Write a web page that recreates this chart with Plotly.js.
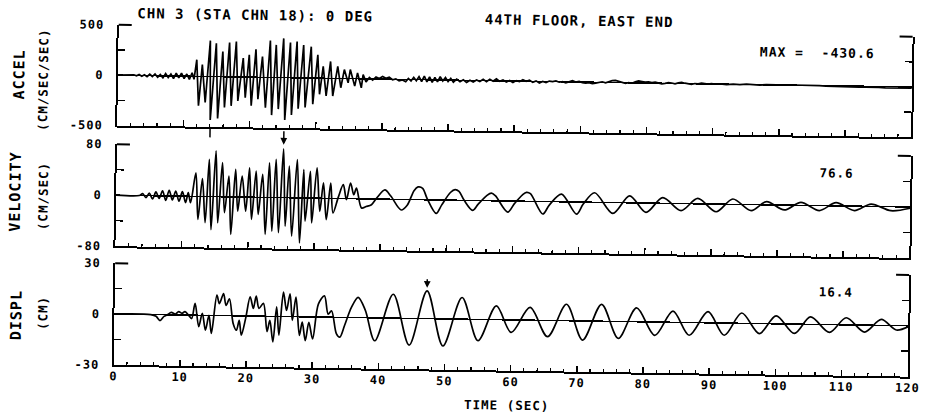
<!DOCTYPE html>
<html>
<head>
<meta charset="utf-8">
<script src="https://cdn.plot.ly/plotly-3.0.1.min.js"></script>
<style>
  html, body { margin: 0; padding: 0; background: #fff; overflow: hidden; }
  #chart { width: 926px; height: 420px; transform: rotate(0.85deg); transform-origin: 463px 210px; }
  .main-svg text { letter-spacing: 1px; }
</style>
</head>
<body>
<div id="chart"></div>
<script>
// ---- Data read from the record (time in seconds) ----
const accelTime = [0, 2.0, 2.4, 2.8, 3.2, 3.6, 4.0, 4.4, 4.8, 5.2, 5.6, 6.0, 6.4, 6.8, 7.2, 7.6, 8.0, 8.4, 8.8, 9.2, 9.6, 10.0, 10.4, 10.8, 11.2, 11.5,
  11.88, 12.23, 12.73, 13.24, 13.89, 14.04, 14.8, 15.15, 15.8, 16.16, 16.8, 17.17, 17.82, 18.17, 18.9, 19.28, 19.8, 20.2, 20.8, 21.2, 21.8, 22.35, 22.96, 23.3,
  23.86, 24.3, 24.97, 25.3, 26.0, 26.3, 27.0, 27.3, 28.0, 28.35, 29.15, 29.5, 30.16, 30.5, 31.0, 31.5, 32.1, 32.5, 33.2, 33.7, 34.2, 34.8, 35.1, 35.8, 36.2, 36.8, 37.05,
  37.5, 38, 38.5, 39, 39.5, 40, 40.5, 41, 41.5, 42, 42.5, 43, 43.5,
  43.9, 44.3, 44.7, 45.1, 45.5, 45.9, 46.3, 46.7, 47.1, 47.5, 47.9, 48.3, 48.7, 49.1, 49.5, 49.9, 50.3, 50.7,
  51.2, 51.7, 52.2, 52.7, 53.2, 53.7, 54.2, 54.7, 55.2, 55.7, 56.2, 56.7, 57.2, 57.7, 58.2, 58.7, 59.2, 59.7, 60.2, 60.7,
  61.2, 61.7, 62.2, 62.7, 63.2, 63.7, 64.2, 64.7, 65.2, 65.7, 66.2, 66.7, 67.2, 67.7, 68.2, 68.7, 69.2, 69.7, 70.2, 70.7,
  71.2, 71.7, 72.2, 72.7, 73.2, 73.7, 74.2, 74.7, 75.2, 75.7, 76.2, 76.7, 77.2, 77.7, 78.2, 78.7, 79.2, 79.7, 80.2, 80.7,
  81.2, 81.7, 82.2, 82.7, 83.2, 83.7, 84.2, 84.7, 85.2, 85.7, 86.2, 86.7, 87.2, 87.7, 88.2, 88.7, 89.2, 89.7, 90.2,
  91, 92, 93, 94, 95, 96, 97, 98, 99, 100, 101, 102, 103, 104, 105, 106, 107, 108, 109, 110,
  111, 112, 113, 114, 115, 116, 117, 118, 119, 120];
const accelValue = [0, 0, 6, -4, 9, -7, 8, -10, 14, -8, 18, -14, 12, -20, 24, -15, 20, -26, 28, -18, 30, -25, 22, -32, 35, -30,
  165, -292, 117, -259, 357, -430.6, 332, -415, 251, -305, 340, -288, 351, -238, 188, -204, 222, -284, 278, -218, 207, -302, 366, -374,
  324, -313, 390, -420, 349, -370, 360, -307, 327, -293, 312, -259, 232, -160, 118, -176, 168, -175, 120, -92, 89, -42, 90, -74, 58, -89, 42,
  -30, 15, -12, 20, 5, 25, 8, 20, -5, 5, -15, -5, -22,
  10, -15, 22, -12, 30, -18, 35, -20, 30, -25, 25, -20, 32, -10, 25, -15, 18, -20,
  10, -15, 5, -20, 2, -15, 5, -10, 12, -10, 15, -5, 20, -5, 10, -10, 5, -15, 5, -5,
  15, 0, 10, -10, 5, -15, 0, -10, 5, 0, 8, -5, 2, -10, 5, 12, 0, 6, -5, -10,
  -4, -15, -8, 2, 6, -4, 10, 18, 22, 12, 4, -6, 2, -4, 10, 20, 14, 8, 12, 6,
  10, 2, -6, 0, 8, 4, -4, 6, 12, 4, -2, -6, 2, 0, 8, 2, -2, 4, 0,
  2, -4, 2, -2, 4, 0, -4, 2, 0, -3, -1, 2, 3, 1, -2, -1, -4, -6, -3, -5,
  -8, -10, -8, -12, -10, -12, -13, -12, -12, -12];

const velTime = [0, 3.5, 4.0, 4.5, 5.0, 5.5, 6.0, 6.5, 7.0, 7.5, 8.0, 8.5, 9.0, 9.5, 10.0, 10.5,
  10.89, 11.25, 12.0, 12.4, 13.0, 13.5, 14.0, 14.4, 15.0, 15.4, 16.0, 16.4, 17.0, 17.4, 18.0, 18.4, 19.0, 19.6, 20.1, 20.5,
  21.1, 21.5, 22.1, 22.6, 23.1, 23.6, 24.1, 24.6, 25.2, 25.6, 26.1, 26.6, 27.3, 27.8, 28.3, 28.6, 29.3, 29.6, 30.3, 30.8,
  31.3, 31.8, 32.4, 32.8, 33.6, 34.3, 34.8, 35.4, 35.9, 36.3, 37.1,
  37.8, 38.6, 39.4, 40.6, 41.5, 43.1, 44.0, 45.0, 45.6, 46.3, 47.0, 48.4, 49.2, 50.5, 51.2, 51.8, 52.6, 53.9, 54.7, 56.0,
  56.7, 57.3, 59.2, 60.2, 61.4, 62.0, 62.6, 64.5, 65.5, 67.3, 69.6, 70.6, 72.3, 75.1, 77.6, 80.1, 82.6, 85.4, 87.9, 90.7,
  93.2, 96.0, 98.3, 101.0, 103.5, 106.3, 108.8, 111.6, 114.1, 117.1, 120];
const velValue = [0, 0, 3, -3, 4, -5, 6, -4, 8, -7, 9, -6, 8, -8, 7, -10,
  5.8, -10, 37, -36, 28, -41, 58.5, -52, 71.7, -41, 53.5, -25, 32.7, -58.7, 43.3, -22, 33, -21.9, 46, -34.8,
  41, -26.9, 36, -58, 54.4, -52.8, 59.8, -55, 76.6, -44.7, 49.5, -60, 60, -70.5, 44.6, -36.4, 42, -39, 47.5, -20.5,
  24, -33.4, 24, -22.9, 3, 21.8, -1.8, 24.6, 6.3, 16.8, -14.4,
  -12, -9, 2, 14.5, 5, -16.6, -9, 14, 20, 18, 2, -21, -8, 12, 16.6, 14, 0, -15.5, -6, 8,
  12, 8, -17.5, -4, 10, 14, 12, -19.6, -5, 12, -19, -3, 15, -17, 11, -14.6, 9, -11, 8.4, -12,
  8.4, -9.4, 5, -7.6, 4.7, -7.8, 5, -7, 3.7, -6.3, -2];

const dispTime = [0, 5.5, 6.3, 6.9, 7.5, 8.0, 8.6, 9.2, 9.7, 10.2,
  10.66, 11.2, 11.67, 12.17, 12.77, 13.28, 13.79, 14.29, 14.69, 15.45, 15.84, 16.45, 16.85, 17.35, 17.96, 18.47, 18.87, 19.22, 19.83, 20.48,
  20.98, 21.39, 21.84, 22.49, 23.1, 23.5, 24.0, 24.5, 24.9, 25.5, 26.0, 26.5, 26.9, 27.4, 28.0, 28.4, 28.9, 29.4, 30.0, 30.8,
  31.7, 32.3, 32.8, 33.6, 34.1, 34.8, 35.8, 36.8, 37.9,
  39.4, 42.1, 44.6, 47.2, 49.7, 52.5, 55.0, 57.7, 60.0, 62.8, 65.5, 68.3, 70.8, 73.6, 76.2, 78.9, 81.7, 84.4, 86.9, 89.7,
  92.2, 94.8, 97.5, 100.0, 102.8, 105.2, 108.1, 110.6, 113.4, 115.9, 118.2, 120];
const dispValue = [0, 0, -1, -3.5, -1, 0, 1.5, 0.5, 2, 1,
  2, 0, -2, 7, -6.7, 1.2, -8.7, 0, -10.6, 12, 7, 13, 6, 10, -4.5, -8.5, -2.6, -11.4, -1.6, 11.3,
  4.5, 11.8, 4.6, 7.6, -9, -2.4, -15, 5.7, -11, 14.4, 3.6, 13.5, -2.2, 11.5, -11, -3.2, -14, -3.2, -13, 7.6,
  12.5, 1.8, 3.8, -9.8, -11.7, -4.8, 6, 12, 4.5,
  -13.5, 14.1, -15.8, 16.4, -16.0, 12.8, -12.6, 8.2, -7.4, 7.5, -9.6, 9.7, -11.3, 10, -10, 8.2, -7.9, 6.6, -7.5, 6.6,
  -7.2, 6.1, -5.9, 4.7, -5.5, 4.4, -4.6, 4.2, -4.1, 3.5, -2.6, -0.5];

// ---- Tick labels ----
const accelTicks = [-500, -250, 0, 250, 500];
const accelTickText = ['-500', '', '0', '', '500'];
const velTicks = [-80, -40, 0, 40, 80];
const velTickText = ['-80', '', '0', '', '80'];
const dispTicks = [-30, -15, 0, 15, 30];
const dispTickText = ['-30', '', '0', '', '30'];

const FONT = 'DejaVu Sans Mono, Liberation Mono, monospace';
const BLACK = '#000';

function argMaxAbs(arr) {
  let k = 0;
  arr.forEach((v, i) => { if (Math.abs(v) > Math.abs(arr[k])) k = i; });
  return k;
}
const ia = argMaxAbs(accelValue), iv = argMaxAbs(velValue), id = argMaxAbs(dispValue);

const lineStyle = (shape) => ({ color: BLACK, width: 1.7, shape: shape, smoothing: 0.9 });
const data = [
  { x: accelTime, y: accelValue, xaxis: 'x', yaxis: 'y', mode: 'lines', line: lineStyle('linear'), hoverinfo: 'skip' },
  { x: velTime, y: velValue, xaxis: 'x2', yaxis: 'y2', mode: 'lines', line: lineStyle('spline'), hoverinfo: 'skip' },
  { x: dispTime, y: dispValue, xaxis: 'x3', yaxis: 'y3', mode: 'lines', line: lineStyle('spline'), hoverinfo: 'skip' }
];

function xAxis(anchor, labels) {
  const ax = {
    anchor: anchor, domain: [0, 1], range: [0, 120],
    showline: true, linecolor: BLACK, linewidth: 2, mirror: false,
    tickmode: 'linear', tick0: 0, dtick: 10,
    ticks: 'inside', ticklen: 6, tickwidth: 1.5, tickcolor: BLACK,
    showticklabels: labels, ticklabelstandoff: -1,
    tickfont: { family: FONT, size: 12, color: BLACK, weight: 700 },
    minor: { tickmode: 'linear', tick0: 0, dtick: 2, ticks: 'inside', ticklen: 3, tickwidth: 1.2, tickcolor: BLACK, showgrid: false },
    showgrid: false, zeroline: false, fixedrange: true
  };
  if (anchor !== 'y') ax.matches = 'x';
  return ax;
}
function yAxis(anchor, domain, range, vals, text) {
  return {
    domain: domain, range: range, anchor: anchor,
    showline: true, linecolor: BLACK, linewidth: 2, mirror: 'ticks',
    ticks: 'inside', ticklen: 7, tickwidth: 1.5, tickcolor: BLACK,
    tickmode: 'array', tickvals: vals, ticktext: text, ticklabelstandoff: 10,
    tickfont: { family: FONT, size: 12, color: BLACK, weight: 700 },
    showgrid: false, zeroline: true, zerolinecolor: BLACK, zerolinewidth: 1.5, fixedrange: true
  };
}

const txt = (extra) => Object.assign({ showarrow: false, font: { family: FONT, size: 13, color: BLACK, weight: 700 } }, extra);

const annotations = [
  txt({ text: 'CHN 3 (STA CHN 18): 0 DEG', xref: 'paper', yref: 'paper', x: 0.036, y: 1.035, xanchor: 'left', yanchor: 'middle', font: { family: FONT, size: 14, color: BLACK, weight: 700 } }),
  txt({ text: '44TH FLOOR, EAST END', xref: 'paper', yref: 'paper', x: 0.471, y: 1.032, xanchor: 'left', yanchor: 'middle', font: { family: FONT, size: 14, color: BLACK, weight: 700 } }),
  txt({ text: 'MAX =  ' + accelValue[ia].toFixed(1), xref: 'x domain', yref: 'y domain', x: 0.947, y: 0.829, xanchor: 'right', yanchor: 'middle' }),
  txt({ text: velValue[iv].toFixed(1), xref: 'x2 domain', yref: 'y2 domain', x: 0.928, y: 0.82, xanchor: 'right', yanchor: 'middle', font: { family: FONT, size: 12.5, color: BLACK, weight: 700 } }),
  txt({ text: dispValue[id].toFixed(1), xref: 'x3 domain', yref: 'y3 domain', x: 0.93, y: 0.826, xanchor: 'right', yanchor: 'middle', font: { family: FONT, size: 12.5, color: BLACK, weight: 700 } }),
  // axis titles
  txt({ text: 'ACCEL', xref: 'paper', yref: 'paper', x: -0.1247, y: 0.851, textangle: -90, xanchor: 'center', yanchor: 'middle', font: { family: FONT, size: 15, color: BLACK, weight: 700 } }),
  txt({ text: '(CM/SEC/SEC)', xref: 'paper', yref: 'paper', x: -0.0945, y: 0.835, textangle: -90, xanchor: 'center', yanchor: 'middle', font: { family: FONT, size: 12.5, color: BLACK, weight: 700 } }),
  txt({ text: 'VELOCITY', xref: 'paper', yref: 'paper', x: -0.1276, y: 0.504, textangle: -90, xanchor: 'center', yanchor: 'middle', font: { family: FONT, size: 15, color: BLACK, weight: 700 } }),
  txt({ text: '(CM/SEC)', xref: 'paper', yref: 'paper', x: -0.092, y: 0.493, textangle: -90, xanchor: 'center', yanchor: 'middle', font: { family: FONT, size: 12.5, color: BLACK, weight: 700 } }),
  txt({ text: 'DISPL', xref: 'paper', yref: 'paper', x: -0.124, y: 0.142, textangle: -90, xanchor: 'center', yanchor: 'middle', font: { family: FONT, size: 15, color: BLACK, weight: 700 } }),
  txt({ text: '(CM)', xref: 'paper', yref: 'paper', x: -0.090, y: 0.148, textangle: -90, xanchor: 'center', yanchor: 'middle', font: { family: FONT, size: 12.5, color: BLACK, weight: 700 } }),
  txt({ text: 'TIME (SEC)', xref: 'paper', yref: 'paper', x: 0.495, y: -0.101, xanchor: 'center', yanchor: 'middle', font: { family: FONT, size: 12.5, color: BLACK, weight: 700 } }),
  // peak markers
  { xref: 'x', yref: 'y domain', x: accelTime[ia], y: 0, text: '', showarrow: true, ax: 0, ay: 12, arrowhead: 0, arrowwidth: 1.5, arrowcolor: BLACK, standoff: 0 },
  { xref: 'x2', yref: 'y2 domain', x: velTime[iv], y: 1, text: '', showarrow: true, ax: 0, ay: -17, arrowhead: 2, arrowsize: 0.9, arrowwidth: 1.5, arrowcolor: BLACK, standoff: 2 },
  { xref: 'x3', yref: 'y3', x: dispTime[id], y: dispValue[id], text: '', showarrow: true, ax: 0, ay: -13, arrowhead: 2, arrowsize: 0.9, arrowwidth: 1.5, arrowcolor: BLACK, standoff: 3 }
];

const shapes = [];
[['x', 'y'], ['x2', 'y2'], ['x3', 'y3']].forEach(([xa, ya]) => {
  shapes.push({ type: 'line', xref: xa + ' domain', yref: ya + ' domain', x0: 0, x1: 0.0164, y0: 1, y1: 1, line: { color: BLACK, width: 2 } });
  shapes.push({ type: 'line', xref: xa + ' domain', yref: ya + ' domain', x0: 0.9836, x1: 1, y0: 1, y1: 1, line: { color: BLACK, width: 2 } });
});

const layout = {
  width: 926, height: 420,
  margin: { l: 116, r: 16, t: 30, b: 50 },
  paper_bgcolor: '#fff', plot_bgcolor: '#fff',
  showlegend: false,
  font: { family: FONT, size: 12, color: BLACK, weight: 700 },
  xaxis: xAxis('y', false),
  xaxis2: xAxis('y2', false),
  xaxis3: xAxis('y3', true),
  yaxis: yAxis('x', [0.704, 1], [-500, 500], accelTicks, accelTickText),
  yaxis2: yAxis('x2', [0.349, 0.649], [-80, 80], velTicks, velTickText),
  yaxis3: yAxis('x3', [0, 0.299], [-30, 30], dispTicks, dispTickText),
  annotations: annotations,
  shapes: shapes
};

Plotly.newPlot('chart', data, layout, { staticPlot: true, displayModeBar: false });
</script>
</body>
</html>
